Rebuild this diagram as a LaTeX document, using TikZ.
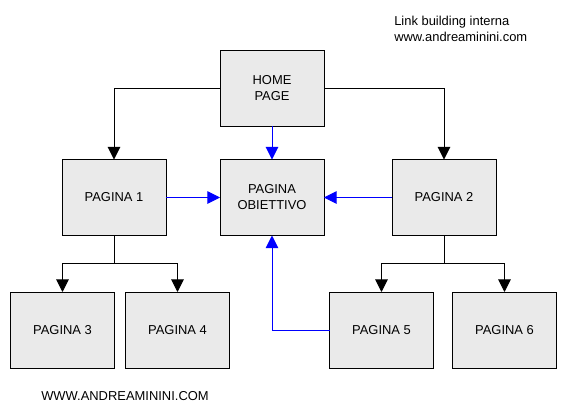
\documentclass[tikz,border=0pt]{standalone}
\usepackage{fontspec}
\setmainfont{Liberation Sans}
\usetikzlibrary{arrows.meta}
\definecolor{boxfill}{HTML}{EAEAEA}
\definecolor{linkblue}{HTML}{0000FF}
\begin{document}
\begin{tikzpicture}[x=0.75pt,y=-0.75pt,
  every node/.style={font=\fontsize{9.7}{12}\selectfont},
  page/.style={draw=black, line width=0.75pt, fill=boxfill, minimum width=78pt, minimum height=57pt, inner sep=0pt, outer sep=0pt, align=center},
  blk/.style={draw=black, line width=0.75pt, -{Triangle[length=9.5pt,width=9.5pt]}},
  blu/.style={draw=linkblue, line width=0.75pt, -{Triangle[length=9.5pt,width=9.5pt]}},
  bluline/.style={draw=linkblue, line width=0.75pt},
  blkline/.style={draw=black, line width=0.75pt}]
\useasboundingbox (0,0) rectangle (562,412);
\node[page] (home) at (272,88) {HOME\\PAGE};
\node[page] (p1) at (114,197.5) {PAGINA 1};
\node[page] (obj) at (272,197.5) {PAGINA\\OBIETTIVO};
\node[page] (p2) at (444,197.5) {PAGINA 2};
\node[page] (p3) at (62.5,330) {PAGINA 3};
\node[page] (p4) at (177.5,330) {PAGINA 4};
\node[page] (p5) at (381.5,330) {PAGINA 5};
\node[page] (p6) at (504.5,330) {PAGINA 6};
\coordinate (b1) at (114,263);
\coordinate (b2) at (444,263);
\draw[blk] (home.west) -| (p1.north);
\draw[blk] (home.east) -| (p2.north);
\draw[blu] (home.south) -- (obj.north);
\draw[blu] (p1.east) -- (obj.west);
\draw[blu] (p2.west) -- (obj.east);
\draw[blu] (p5.west) -| (obj.south);
\draw[blkline] (p1.south) -- (b1);
\draw[blk] (b1) -| (p3.north);
\draw[blk] (b1) -| (p4.north);
\draw[blkline] (p2.south) -- (b2);
\draw[blk] (b2) -| (p5.north);
\draw[blk] (b2) -| (p6.north);
\node[anchor=base west, align=left, inner sep=0pt] (title) at (394,41) {Link building interna\\www.andreaminini.com};
\node[anchor=base west, inner sep=0pt] (footer) at (41,400) {WWW.ANDREAMININI.COM};
\end{tikzpicture}
\end{document}
